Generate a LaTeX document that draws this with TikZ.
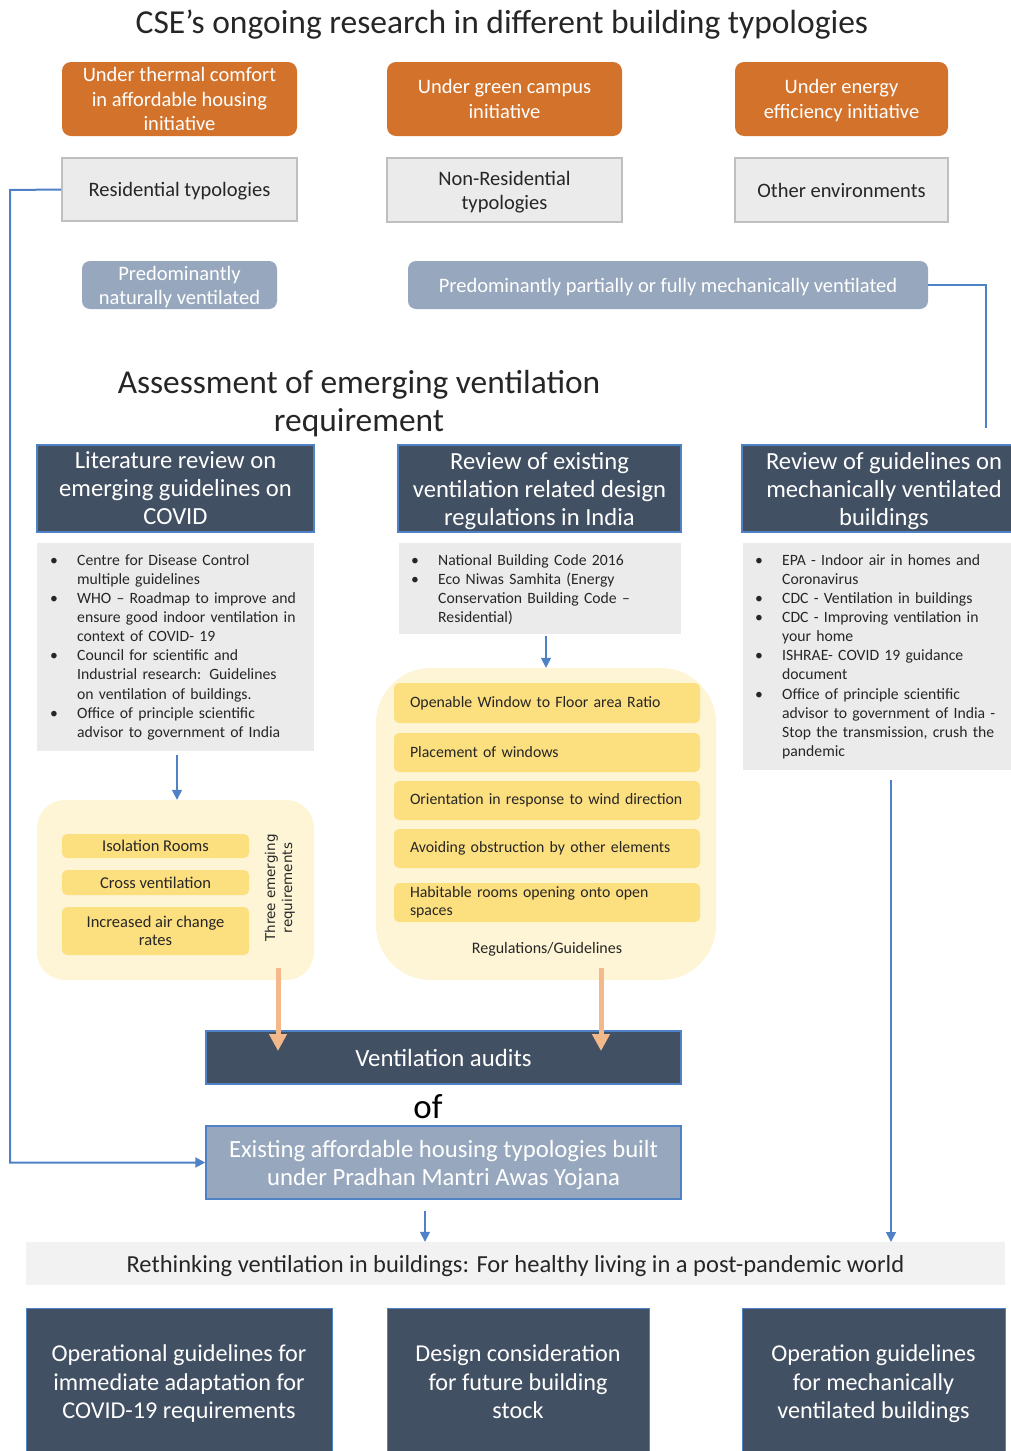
\documentclass[tikz,border=0pt]{standalone}
\usepackage{fontspec}
\setmainfont{Carlito}
\newfontfamily\dejavu{DejaVu Sans}
\usetikzlibrary{arrows.meta}
\definecolor{cseorange}{HTML}{D3722B}
\definecolor{boxgray}{HTML}{EBEBEB}
\definecolor{boxborder}{HTML}{BFBFBF}
\definecolor{bluegray}{HTML}{97A8BE}
\definecolor{lineblue}{HTML}{4F81C7}
\definecolor{darkslate}{HTML}{425063}
\definecolor{paleyellow}{HTML}{FDF5D5}
\definecolor{itemyellow}{HTML}{FCDF7F}
\definecolor{peach}{HTML}{F4B98B}
\definecolor{bandgray}{HTML}{F1F2F1}
\definecolor{txtdark}{HTML}{262626}
\newcommand\fs[2]{\fontsize{#1}{#2}\selectfont}
\newlength\bulind
\setlength\bulind{27pt}
\newcommand\bitem[1]{\par\hangindent=\bulind\hangafter=1\noindent\hbox to \bulind{\textbullet\hfil}#1}
\tikzset{
  orangebox/.style={rounded corners=9pt, fill=cseorange, text=white, align=center, font=\fs{20.5}{24.5}, inner sep=0pt, text depth=0pt},
  graybox/.style={fill=boxgray, draw=boxborder, line width=2pt, text=txtdark, align=center, font=\fs{20.5}{24}, inner sep=0pt, text depth=0pt},
  bgbox/.style={rounded corners=8pt, fill=bluegray, text=white, align=center, font=\fs{20.5}{24}, inner sep=0pt, text depth=0pt},
  darkbox/.style={fill=darkslate, draw=lineblue, line width=1.5pt, text=white, align=center, font=\fs{24.6}{28}, inner sep=0pt, text depth=0pt},
  listbox/.style={fill=boxgray, inner sep=0pt},
  listtext/.style={anchor=north west, inner sep=0pt, text width=300pt, align=left, font=\fs{15.7}{19.1}, text=txtdark},
  container/.style={fill=paleyellow, inner sep=0pt},
  yitem/.style={rounded corners=5pt, fill=itemyellow, inner sep=0pt, text=txtdark, font=\fs{16.5}{18}},
  mitem/.style={yitem, font=\fs{15.8}{18}, minimum width=306pt, text width=274pt, align=left},
  bluearrow/.style={draw=lineblue, line width=1.6pt, -{Triangle[width=10pt,length=10pt]}},
  blueline/.style={draw=lineblue, line width=2pt},
  peacharrow/.style={draw=peach, line width=5pt, -{Triangle[width=17pt,length=17pt]}},
}
\begin{document}
\begin{tikzpicture}[x=1pt,y=-1pt]
\useasboundingbox (0,0) rectangle (1011,1451);
\clip (0,0) rectangle (1011,1451);
\fill[white] (0,0) rectangle (1011,1451);

% title
\node[font=\fs{33.5}{36}, text=txtdark, text depth=0pt] (title) at (502,22) {CSE’s ongoing research in different building typologies};

% orange
\node[orangebox, minimum width=235pt, minimum height=74pt] (o1) at (179.5,99) {Under thermal comfort\\in affordable housing\\initiative};
\node[orangebox, minimum width=235pt, minimum height=74pt] (o2) at (504.5,99) {Under green campus\\initiative};
\node[orangebox, minimum width=213pt, minimum height=74pt] (o3) at (841.5,99) {Under energy\\efficiency initiative};

% gray typologies
\node[graybox, minimum width=235pt, minimum height=63pt] (g1) at (179.5,189.5) {Residential typologies};
\node[graybox, minimum width=235pt, minimum height=64pt] (g2) at (504.5,190) {Non-Residential\\typologies};
\node[graybox, minimum width=213pt, minimum height=64pt] (g3) at (841.5,190) {Other environments};

% blue-gray
\node[bgbox, minimum width=195pt, minimum height=48pt] (b1) at (179.5,285) {Predominantly\\naturally ventilated};
\node[bgbox, minimum width=520pt, minimum height=48pt] (b2) at (668,285) {Predominantly partially or fully mechanically ventilated};

% assessment heading
\node[font=\fs{33.4}{38}, text=txtdark, align=center, text depth=0pt] (assess) at (359,401) {Assessment of emerging ventilation\\requirement};

% dark heads
\node[darkbox, minimum width=277pt, minimum height=87pt] (h1) at (175.5,488.5) {Literature review on\\emerging guidelines on\\COVID};
\node[darkbox, minimum width=283pt, minimum height=87pt] (h2) at (539.5,488.5) {Review of existing\\ventilation related design\\regulations in India};
\node[darkbox, minimum width=284pt, minimum height=87pt] (h3) at (884,488.5) {Review of guidelines on\\mechanically ventilated\\buildings};

% list boxes
\node[listbox, minimum width=277pt, minimum height=208pt] (l1) at (175.5,647) {};
\node[listbox, minimum width=282pt, minimum height=91pt] (l2) at (540,588.5) {};
\node[listbox, minimum width=280pt, minimum height=227pt] (l3) at (883,656.5) {};

\node[listtext] (l1t) at (50,546) {\raggedright
\bitem{Centre for Disease Control\newline multiple guidelines}
\bitem{WHO – Roadmap to improve and\newline ensure good indoor ventilation in\newline context of COVID- 19}
\bitem{Council for scientific and\newline Industrial research: Guidelines\newline on ventilation of buildings.}
\bitem{Office of principle scientific\newline advisor to government of India}\par};
\node[listtext] (l2t) at (411,546) {\raggedright
\bitem{National Building Code 2016}
\bitem{Eco Niwas Samhita (Energy\newline Conservation Building Code –\newline Residential)}\par};
\node[listtext] (l3t) at (755,546) {\raggedright
\bitem{EPA - Indoor air in homes and\newline Coronavirus}
\bitem{CDC - Ventilation in buildings}
\bitem{CDC - Improving ventilation in\newline your home}
\bitem{ISHRAE- COVID 19 guidance\newline document}
\bitem{Office of principle scientific\newline advisor to government of India -\newline Stop the transmission, crush the\newline pandemic}\par};

% left yellow container
\node[container, rounded corners=28pt, minimum width=277pt, minimum height=180pt] (c1) at (175.5,890) {};
\node[yitem, minimum width=187pt, minimum height=24pt] (y1) at (155.5,846) {Isolation Rooms};
\node[yitem, minimum width=187pt, minimum height=25pt] (y2) at (155.5,882.5) {Cross ventilation};
\node[yitem, minimum width=187pt, minimum height=48pt, align=center] (y3) at (155.5,931) {Increased air change\\rates};
\node[rotate=90, font=\dejavu\fs{13.5}{17}, text=txtdark, align=center, inner sep=0pt] (three) at (280,888) {Three emerging\\requirements};

% middle yellow container
\node[container, rounded corners=55pt, minimum width=340pt, minimum height=312pt] (c2) at (546,824) {};
\node[mitem, minimum height=40pt] (m1) at (547,703) {Openable Window to Floor area Ratio};
\node[mitem, minimum height=39pt] (m2) at (547,752.5) {Placement of windows};
\node[mitem, minimum height=39pt] (m3) at (547,800.5) {Orientation in response to wind direction};
\node[mitem, minimum height=39pt] (m4) at (547,848.5) {Avoiding obstruction by other elements};
\node[mitem, minimum height=39pt] (m5) at (547,902.5) {Habitable rooms opening onto open\\spaces};
\node[font=\fs{16}{18}, text=txtdark, inner sep=0pt] (regs) at (547,949) {Regulations/Guidelines};

% audits
\node[darkbox, font=\fs{24.8}{28}, minimum width=475pt, minimum height=53pt] (audit) at (443.5,1057.5) {Ventilation audits};
\node[font=\fs{35}{36}, text=black, inner sep=0pt, text depth=0pt] (of) at (428,1106) {of};
\node[darkbox, fill=bluegray, font=\fs{24.7}{28}, minimum width=475pt, minimum height=73pt] (exist) at (443.5,1162.5) {Existing affordable housing typologies built\\under Pradhan Mantri Awas Yojana};

% band
\node[fill=bandgray, minimum width=979pt, minimum height=43pt, inner sep=0pt, font=\fs{24.5}{26}, text=txtdark, text depth=0pt] (band) at (515.5,1263.5) {Rethinking ventilation in buildings: For healthy living in a post-pandemic world};

% bottom
\node[darkbox, line width=1pt, font=\fs{24.2}{28.5}, minimum width=306pt, minimum height=148pt] (f1) at (179,1382) {Operational guidelines for\\immediate adaptation for\\COVID-19 requirements};
\node[darkbox, line width=1pt, font=\fs{24.2}{28.5}, minimum width=262pt, minimum height=148pt] (f2) at (518,1382) {Design consideration\\for future building\\stock};
\node[darkbox, line width=1pt, font=\fs{24.2}{28.5}, minimum width=263pt, minimum height=148pt] (f3) at (873.5,1382) {Operation guidelines\\for mechanically\\ventilated buildings};

% connectors
\coordinate (mechend) at (986,428);
\coordinate (leftx) at (10,190);
\coordinate (rstart) at (891,780);
\coordinate (rend) at (891,1242);
\coordinate (pa1) at (278,968);
\coordinate (pa1e) at (278,1051);
\coordinate (pa2) at (601,968);
\coordinate (pa2e) at (601,1051);
\draw[blueline] (b2.east) -| (mechend);
\draw[bluearrow, line width=2pt] (g1.west) -- (leftx) |- (exist.west);
\draw[bluearrow] ([xshift=1.5pt,yshift=-4pt]l1.south) -- ([xshift=1.5pt]c1.north);
\draw[bluearrow] ([xshift=6pt,yshift=-2pt]l2.south) -- (c2.north);
\draw[bluearrow] (rstart) -- (rend);
\draw[bluearrow] ([xshift=-18.5pt,yshift=-11pt]exist.south) -- ([xshift=-90.5pt]band.north);
\draw[peacharrow] (pa1) -- (pa1e);
\draw[peacharrow] (pa2) -- (pa2e);
\end{tikzpicture}
\end{document}
